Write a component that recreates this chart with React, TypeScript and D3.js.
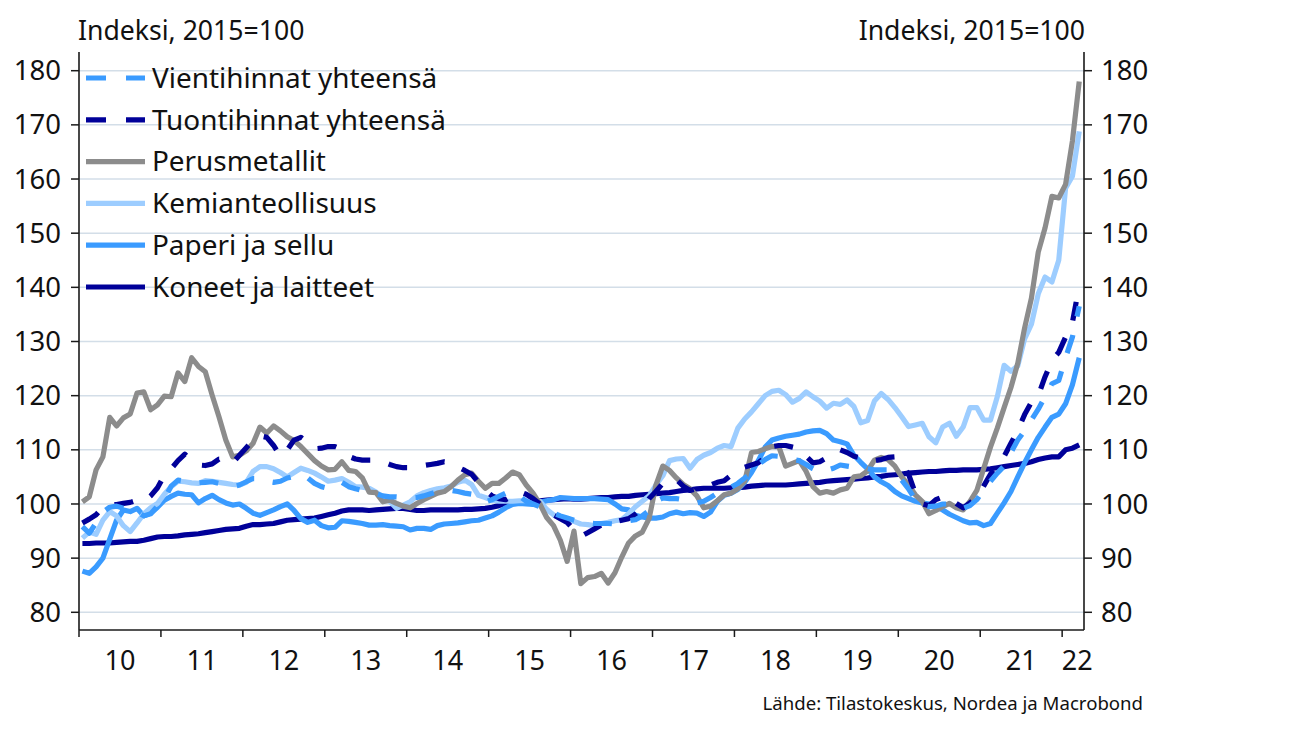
import React from 'react';
import { scaleLinear, line } from 'd3';

// kuukausittaiset indeksit 2010-01 ... 2022-03 (2015=100)
const vienti = [
  95.8, 94.6, 96.5, 98.5, 99.4, 99.6, 99.2, 98.9, 98.6, 97.8, 98.2, 99.6,
  100.9, 103.3, 104.4, 104.2, 103.8, 103.9, 104.0, 104.1, 103.8, 103.5, 103.2, 103.5,
  104.1, 104.7, 104.7, 104.2, 104.0, 104.2, 104.8, 105.1, 105.5, 104.8, 103.8, 103.2,
  102.9, 103.4, 104.0, 103.2, 102.8, 102.5, 102.2, 101.9, 101.5, 101.3, 101.3, 101.2,
  101.1, 101.2, 101.5, 101.9, 102.3, 102.5, 102.5, 102.3, 102.0, 101.8, 100.8, 100.4,
  100.8, 101.4, 102.0, 102.3, 101.5, 100.5, 100.0, 99.5, 98.9, 98.3, 97.8, 97.4,
  97.0, 96.7, 96.5, 96.4, 96.4, 96.4, 96.3, 96.7, 96.9, 97.1, 97.8, 98.8,
  100.5, 101.1, 101.0, 101.0, 100.8, 100.5, 100.2, 100.5, 101.2, 102.0, 102.7, 103.1,
  103.8, 104.8, 105.7, 107.3, 108.2, 108.9, 108.8, 108.5, 108.2, 108.0, 107.3, 106.5,
  105.9, 106.2, 106.6, 107.2, 107.0, 106.8, 106.6, 106.5, 106.3, 106.3, 106.3, 105.8,
  104.4, 102.8, 100.8, 99.8, 99.5, 99.6, 100.0, 100.0, 99.6, 99.2, 99.7, 100.8,
  102.6, 104.2, 105.7, 107.0, 109.5, 111.8, 113.5, 115.5, 117.5, 119.8, 122.2, 122.8,
  127.0, 130.8, 136.5,
];
const tuonti = [
  96.5, 97.2, 98.0, 99.4, 99.8, 99.9, 100.1, 100.3, 100.7, 100.5, 101.5, 103.0,
  105.3, 106.5, 108.0, 109.2, 108.0, 107.2, 107.1, 107.4, 108.3, 108.3, 107.6, 109.0,
  110.4, 111.8, 112.6, 112.3, 110.8, 108.8, 110.0, 111.8, 112.3, 111.3, 110.2, 110.3,
  110.6, 110.6, 110.1, 108.8, 108.3, 108.1, 108.1, 108.1, 107.8, 107.3, 106.9, 106.7,
  106.7, 106.9, 107.1, 107.3, 107.5, 107.8, 107.6, 106.8, 106.2, 105.5, 104.0, 102.5,
  101.5, 101.0, 100.8, 101.5, 102.3, 101.8, 101.0, 100.0, 98.9, 98.0, 97.3, 96.6,
  95.2, 94.0, 94.7, 95.4, 96.1, 96.5, 96.7, 97.0, 97.3, 98.1, 99.2, 101.0,
  102.3, 103.8, 104.5, 104.5, 103.3, 102.5, 102.8, 103.2, 103.5, 104.0, 104.3, 105.3,
  106.5, 106.8, 107.2, 107.6, 108.6, 110.6, 110.8, 110.8, 110.5, 110.2, 108.8, 107.6,
  107.8, 108.5, 109.0, 110.0, 109.5, 108.8, 108.5, 108.6, 108.0, 108.2, 108.6, 108.7,
  107.6, 105.5, 102.0, 100.0, 99.7, 100.8, 101.3, 101.2, 100.1, 99.3, 100.2, 101.2,
  103.3, 105.5, 107.2, 108.8, 111.2, 113.6, 116.5, 118.8, 120.0, 123.5, 126.5, 128.0,
  130.8, 133.5, 140.3,
];
const perusmetallit = [
  100.4, 101.3, 106.3, 108.7, 116.0, 114.4, 115.9, 116.6, 120.5, 120.7, 117.4, 118.3,
  119.9, 119.8, 124.2, 122.6, 127.0, 125.4, 124.4, 120.1, 116.1, 111.8, 108.7, 109.0,
  109.8, 111.2, 114.2, 113.1, 114.4, 113.5, 112.4, 111.7, 110.6, 109.3, 108.0, 107.0,
  106.3, 106.4, 107.8, 106.2, 106.0, 104.8, 102.2, 102.1, 100.4, 100.7, 100.1, 99.6,
  99.3, 100.1, 100.8, 101.4, 102.0, 102.3, 103.2, 104.4, 105.4, 105.7, 104.2, 102.9,
  103.8, 103.8, 104.8, 105.9, 105.4, 103.5, 102.0, 100.0, 97.5, 96.0, 93.3, 89.4,
  95.0, 85.3, 86.4, 86.6, 87.2, 85.4, 87.3, 90.2, 92.8, 94.1, 94.8, 97.3,
  103.5, 107.0, 106.2, 104.8, 103.6, 102.8, 101.5, 99.3, 99.6, 100.6, 101.7, 102.0,
  102.8, 104.2, 109.5, 109.7, 110.2, 110.6, 110.6, 107.0, 107.5, 108.0, 106.0, 103.2,
  102.0, 102.3, 102.0, 102.6, 102.9, 105.0, 105.2, 106.1, 108.1, 108.6, 108.2, 107.0,
  105.0, 103.5, 101.7, 100.5, 98.2, 98.8, 99.5, 100.1, 99.3, 98.9, 100.5, 102.5,
  106.5, 110.5, 114.0, 117.8, 121.5, 126.0, 132.5, 138.0, 146.5, 151.0, 156.8, 156.5,
  159.0, 167.0, 178.0,
];
const kemia = [
  93.7, 94.8, 94.4, 97.0, 98.6, 97.8, 96.0, 94.9, 96.5, 98.2, 99.3, 100.1,
  101.8, 103.2, 104.2, 104.1, 103.9, 103.8, 104.3, 104.2, 104.0, 103.8, 103.6, 103.5,
  104.0, 106.0, 106.9, 106.9, 106.5, 105.8, 105.0, 105.8, 106.6, 106.2, 105.7, 105.0,
  104.2, 104.4, 104.7, 104.0, 103.2, 103.1, 102.9, 102.2, 101.3, 100.5, 99.2, 99.8,
  100.4, 101.5, 102.1, 102.5, 102.8, 103.0, 103.3, 104.0, 104.4, 103.6, 101.6, 101.2,
  100.7, 100.5, 100.5, 100.5, 100.6, 100.6, 100.7, 100.5, 99.0, 98.0, 97.4, 97.0,
  96.8, 96.3, 96.2, 96.0, 96.4, 96.6, 96.9, 97.1, 98.2, 99.5, 100.5, 101.5,
  103.5, 105.2, 108.0, 108.3, 108.4, 106.6, 108.2, 109.0, 109.5, 110.3, 110.8, 110.6,
  114.0, 115.7, 117.0, 118.5, 120.0, 120.8, 121.0, 120.2, 118.8, 119.5, 120.7, 119.8,
  119.0, 117.7, 118.6, 118.4, 119.2, 118.0, 115.0, 115.4, 119.0, 120.4, 119.3, 117.8,
  116.1, 114.3, 114.6, 114.9, 112.4, 111.3, 114.2, 114.9, 112.5, 114.2, 117.8, 117.8,
  115.5, 115.5, 119.8, 125.6, 124.5, 125.5, 130.5, 133.2, 138.8, 141.9, 141.0, 145.0,
  158.3, 160.5, 168.8,
];
const paperi = [
  87.6, 87.2, 88.4, 90.0, 93.5, 97.0, 98.9, 98.6, 99.2, 97.8, 98.3, 99.4,
  100.7, 101.4, 102.0, 101.8, 101.7, 100.2, 101.0, 101.6, 100.8, 100.2, 99.8, 100.0,
  99.2, 98.3, 97.9, 98.4, 98.9, 99.5, 100.0, 98.8, 97.3, 96.6, 97.0, 96.0,
  95.6, 95.7, 96.9, 96.8, 96.6, 96.4, 96.1, 96.1, 96.2, 96.0, 95.9, 95.8,
  95.2, 95.5, 95.5, 95.3, 96.0, 96.3, 96.4, 96.5, 96.7, 96.9, 97.0, 97.4,
  97.8, 98.5, 99.3, 99.9, 100.1, 100.0, 99.9, 100.3, 100.6, 100.8, 101.2, 101.1,
  101.0, 101.0, 101.0, 101.0, 100.9, 100.8, 100.0, 99.1, 98.9, 97.9, 97.6, 97.4,
  97.4, 97.6, 98.2, 98.5, 98.2, 98.4, 98.3, 97.7, 98.5, 100.5, 101.6, 102.0,
  102.7, 104.0, 105.8, 108.0, 110.5, 111.8, 112.2, 112.5, 112.7, 112.9, 113.3, 113.5,
  113.6, 113.0, 111.8, 111.5, 111.1, 109.0, 107.7, 106.5, 105.0, 104.1, 103.4, 102.3,
  101.5, 101.0, 100.5, 100.2, 100.0, 99.5, 98.9, 98.1, 97.5, 96.9, 96.5, 96.6,
  96.0, 96.4, 98.3, 100.2, 102.3, 105.0, 107.6, 110.0, 112.3, 114.2, 116.0, 116.6,
  118.5, 122.0, 127.0,
];
const koneet = [
  92.7, 92.7, 92.8, 92.8, 92.8, 92.9, 93.0, 93.1, 93.1, 93.3, 93.6, 93.9,
  94.0, 94.0, 94.1, 94.3, 94.4, 94.5, 94.7, 94.9, 95.1, 95.3, 95.4, 95.5,
  95.9, 96.2, 96.2, 96.3, 96.4, 96.7, 97.0, 97.1, 97.2, 97.3, 97.4, 97.7,
  98.0, 98.3, 98.7, 98.9, 98.9, 98.9, 98.8, 98.9, 99.0, 99.1, 99.2, 99.2,
  99.0, 98.8, 98.8, 98.9, 98.9, 98.9, 98.9, 98.9, 99.0, 99.0, 99.1, 99.2,
  99.4, 99.7, 100.1, 100.3, 100.4, 100.4, 100.5, 100.6, 100.7, 100.8, 100.9, 101.0,
  100.9, 100.9, 101.0, 101.1, 101.2, 101.2, 101.3, 101.4, 101.4, 101.6, 101.7, 101.8,
  101.9, 102.0, 102.1, 102.3, 102.5, 102.6, 102.8, 102.9, 102.9, 102.9, 102.9, 103.0,
  103.0, 103.1, 103.3, 103.4, 103.5, 103.5, 103.5, 103.5, 103.6, 103.7, 103.8, 103.9,
  104.0, 104.2, 104.3, 104.4, 104.5, 104.6, 104.7, 104.8, 105.0, 105.1, 105.3, 105.4,
  105.5, 105.7, 105.8, 105.9, 106.0, 106.0, 106.1, 106.2, 106.2, 106.3, 106.3, 106.3,
  106.4, 106.5, 106.7, 106.9, 107.1, 107.3, 107.5, 107.8, 108.2, 108.5, 108.7, 108.7,
  110.0, 110.3, 110.9,
];

const years = [2010, 2011, 2012, 2013, 2014, 2015, 2016, 2017, 2018, 2019, 2020, 2021, 2022];
const yTicks = [80, 90, 100, 110, 120, 130, 140, 150, 160, 170, 180];
const unitLabel = 'Indeksi, 2015=100';
const source = 'Lähde: Tilastokeskus, Nordea ja Macrobond';

const series = [
  { name: 'Vientihinnat yhteensä', values: vienti, color: '#3a9bff', dash: true },
  { name: 'Tuontihinnat yhteensä', values: tuonti, color: '#000099', dash: true },
  { name: 'Perusmetallit', values: perusmetallit, color: '#8c8c8c', dash: false },
  { name: 'Kemianteollisuus', values: kemia, color: '#9dcdff', dash: false },
  { name: 'Paperi ja sellu', values: paperi, color: '#3a9bff', dash: false },
  { name: 'Koneet ja laitteet', values: koneet, color: '#000099', dash: false },
];

const W = 1300;
const H = 734;
const left = 79;
const right = 1084;
const axisY = 630;
const font = '"Noto Sans", "Open Sans", sans-serif';

export default function App() {
  const x = scaleLinear().domain([2010, 2022 + 3.2 / 12]).range([left, right]);
  const y = scaleLinear().domain([80, 180]).range([612.3, 70.7]);
  const monthX = (i: number) => x(2010 + (i + 0.5) / 12);

  const path = line<number>()
    .x((_, i) => monthX(i))
    .y((d) => y(d));

  const drawOrder = [...series].reverse();

  return (
    <svg
      width={W}
      height={H}
      style={{ position: 'absolute', left: 0, top: 0, background: '#fff' }}
      fontFamily={font}
    >
      {/* grid */}
      {yTicks.map((t) => (
        <line key={'g' + t} x1={left} x2={right} y1={y(t)} y2={y(t)} stroke="#d3dee8" strokeWidth={1.5} />
      ))}

      {/* series */}
      {drawOrder.map((s) => (
        <path
          key={s.name}
          d={path(s.values) || ''}
          fill="none"
          stroke={s.color}
          strokeWidth={5.2}
          strokeLinejoin="round"
          strokeDasharray={s.dash ? '19 19' : undefined}
        />
      ))}

      {/* axes */}
      <line x1={left} x2={left} y1={52} y2={axisY} stroke="#1a1a1a" strokeWidth={1.6} />
      <line x1={right} x2={right} y1={52} y2={axisY} stroke="#1a1a1a" strokeWidth={1.6} />
      <line x1={left} x2={right} y1={axisY} y2={axisY} stroke="#1a1a1a" strokeWidth={1.6} />

      {yTicks.map((t) => (
        <g key={'t' + t}>
          <line x1={left - 8} x2={left} y1={y(t)} y2={y(t)} stroke="#1a1a1a" strokeWidth={1.5} />
          <line x1={right} x2={right + 8} y1={y(t)} y2={y(t)} stroke="#1a1a1a" strokeWidth={1.5} />
          <text x={61} y={y(t)} dy="0.35em" textAnchor="end" fontSize={27.5} fill="#111">
            {t}
          </text>
          <text x={1101} y={y(t)} dy="0.35em" textAnchor="start" fontSize={27.5} fill="#111">
            {t}
          </text>
        </g>
      ))}

      {years.map((yr) => (
        <line key={'x' + yr} x1={x(yr)} x2={x(yr)} y1={axisY} y2={axisY + 7} stroke="#1a1a1a" strokeWidth={1.5} />
      ))}
      {years.map((yr) => {
        const cx = yr < 2022 ? x(yr + 0.5) : x(yr) + 15;
        return (
          <text key={'xl' + yr} x={cx} y={661} dy="0.35em" textAnchor="middle" fontSize={27} fill="#111">
            {String(yr).slice(2)}
          </text>
        );
      })}

      {/* headers */}
      <text x={78} y={31} dy="0.35em" fontSize={26.6} fill="#111">
        {unitLabel}
      </text>
      <text x={1085} y={31} dy="0.35em" textAnchor="end" fontSize={26.6} fill="#111">
        {unitLabel}
      </text>

      {/* legend */}
      {series.map((s, i) => {
        const ly = 78 + i * 41.8;
        return (
          <g key={'l' + s.name}>
            <line
              x1={86}
              x2={145}
              y1={ly}
              y2={ly}
              stroke={s.color}
              strokeWidth={5.2}
              strokeDasharray={s.dash ? '20 20' : undefined}
            />
            <text x={152} y={ly} dy="0.35em" fontSize={27.9} fill="#111">
              {s.name}
            </text>
          </g>
        );
      })}

      <text x={1143} y={703} dy="0.35em" textAnchor="end" fontSize={18.6} fill="#111">
        {source}
      </text>
    </svg>
  );
}
